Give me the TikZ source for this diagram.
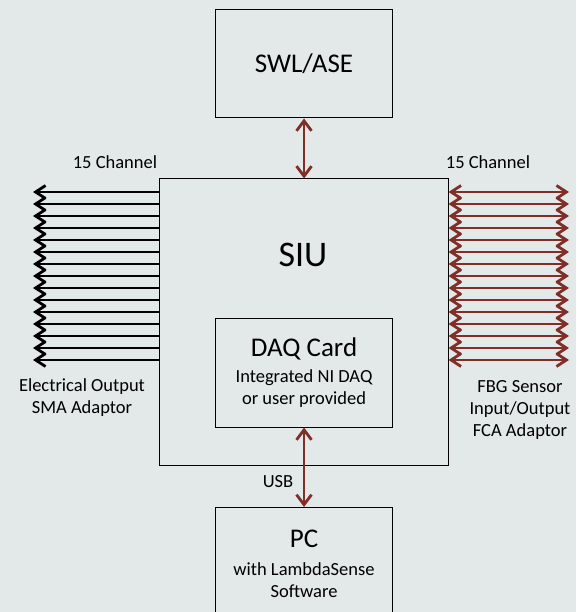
\documentclass[tikz,border=0pt]{standalone}
\usepackage{fontspec}
\setmainfont{Carlito}
\usetikzlibrary{arrows.meta, positioning, calc}
\definecolor{bgcol}{RGB}{227,232,232}
\definecolor{wine}{RGB}{127,46,40}
\tikzset{every node/.style={font=\fontsize{18.5}{22}\selectfont}}

\begin{document}
\begin{tikzpicture}[x=1pt, y=-1pt]
  \tikzstyle{box} = [rectangle, draw=black, line width=1pt, inner sep=0pt]
  \tikzstyle{unit} = [box, minimum width=177pt, minimum height=108pt, align=center]
  \tikzstyle{link} = [line width=2.8pt, wine, {Straight Barb[length=10pt, width=15pt]}-{Straight Barb[length=10pt, width=15pt]}]
  \tikzstyle{elec} = [line width=2.8pt, black, {Straight Barb[length=10pt, width=13pt]}-]
  \tikzstyle{fbg} = [line width=2.8pt, wine, {Straight Barb[length=10pt, width=13pt]}-{Straight Barb[length=10pt, width=13pt]}]
  \fill[bgcol] (0,0) rectangle (576,612);
  \useasboundingbox (0,0) rectangle (576,612);
  \node (swl) [unit] at (304,64) {{\fontsize{27}{30}\selectfont SWL/ASE}};
  \node (siu) [box, minimum width=289pt, minimum height=286pt] at (303.5,322) {};
  \node (siulabel) [font=\fontsize{36}{40}\selectfont] at (303,255) {SIU};
  \node (daq) [unit, minimum height=109pt] at (304,372.5) {{\fontsize{27}{28}\selectfont DAQ Card}\\[4pt]Integrated NI DAQ\\or user provided};
  \node (pc) [unit, minimum height=112pt, anchor=north] at (304,507) {{\fontsize{27}{30}\selectfont PC}\\[6pt]with LambdaSense\\Software};
  \node (leftch) at (115,162) {15 Channel};
  \node (rightch) at (488,162) {15 Channel};
  \node (elecout) [align=center] at (82,398) {Electrical Output\\SMA Adaptor};
  \node (fbgin) [align=center] at (520,410) {FBG Sensor\\Input/Output\\FCA Adaptor};
  % channels
  \foreach \i in {0,...,14} {
    \coordinate (l\i) at (33,192+12*\i);
    \coordinate (r\i) at (569,192+12*\i);
    \draw [elec] (l\i) -- (siu.west |- l\i);
    \draw [fbg] (siu.east |- r\i) -- (r\i);
  }
  \draw [link] (swl.south) -- (siu.north -| swl.south);
  \draw [link] (daq.south) -- (pc.north);
  \node (usb) at (278,482) {USB};
\end{tikzpicture}
\end{document}
